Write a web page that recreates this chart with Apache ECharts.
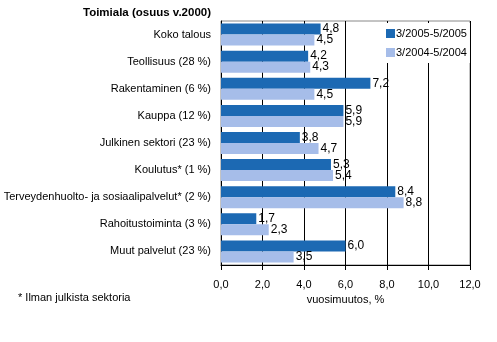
<!DOCTYPE html>
<html><head><meta charset="utf-8">
<script src="https://cdn.jsdelivr.net/npm/echarts@6/dist/echarts.min.js"></script>
<style>html,body{margin:0;padding:0;background:#fff}#c{width:497px;height:342px}</style>
</head><body><div id="c"></div>
<script>
const categories = ["Koko talous","Teollisuus (28 %)","Rakentaminen (6 %)","Kauppa (12 %)","Julkinen sektori (23 %)","Koulutus* (1 %)","Terveydenhuolto- ja sosiaalipalvelut* (2 %)","Rahoitustoiminta (3 %)","Muut palvelut (23 %)"];
const series2005 = [4.8,4.2,7.2,5.9,3.8,5.3,8.4,1.7,6.0];
const series2004 = [4.5,4.3,4.5,5.9,4.7,5.4,8.8,2.3,3.5];
const seriesNames = ["3/2005-5/2005","3/2004-5/2004"];
const font = "Liberation Sans, Arial, sans-serif";
const fmt = v => v.toFixed(1).replace('.', ',');
const chart = echarts.init(document.getElementById('c'), null, {renderer:'canvas'});
const lbl = {show:true, position:'right', distance:2, color:'#000', fontFamily:font, fontSize:12, formatter:p=>fmt(p.value)};
chart.setOption({
  animation:false,
  textStyle:{fontFamily:font},
  title:[
    {text:"Toimiala (osuus v.2000)", left:211, top:7, padding:0, textAlign:'right', textStyle:{fontFamily:font, fontSize:11.5, fontWeight:'bold', color:'#000'}},
    {text:"* Ilman julkista sektoria", left:18, top:292, padding:0, textStyle:{fontFamily:font, fontSize:11, fontWeight:'normal', color:'#000'}}
  ],
  legend:{orient:'vertical', left:383, top:23, itemWidth:9, itemHeight:9, itemGap:8, padding:[5,3,5,3], backgroundColor:'#fff',
    textStyle:{fontFamily:font, fontSize:11, color:'#000', padding:[0,0,0,-4]}, icon:'rect', data:seriesNames},
  grid:{left:221, top:21, right:27, bottom:77, show:true, borderColor:'#888', borderWidth:1, containLabel:false},
  xAxis:{type:'value', min:0, max:12, interval:2,
    name:'vuosimuutos, %', nameLocation:'middle', nameGap:28, nameTextStyle:{fontFamily:font, fontSize:11, color:'#000'},
    axisLine:{show:true, lineStyle:{color:'#000'}}, axisTick:{show:true, length:5, lineStyle:{color:'#000'}},
    axisLabel:{margin:14, color:'#000', fontFamily:font, fontSize:11, formatter:v=>fmt(v)},
    splitLine:{show:true, lineStyle:{color:'#000', width:1}}},
  yAxis:{type:'category', data:categories, inverse:true,
    axisLine:{show:true, lineStyle:{color:'#000'}}, axisTick:{show:false},
    axisLabel:{margin:10, color:'#000', fontFamily:font, fontSize:11}},
  series:[
    {name:seriesNames[0], type:'bar', data:series2005, barWidth:11, barGap:'0%', itemStyle:{color:'#1c69b3'}, label:lbl},
    {name:seriesNames[1], type:'bar', data:series2004, barWidth:11, barGap:'0%', itemStyle:{color:'#a6bde9'}, label:lbl}
  ]
});
</script></body></html>
